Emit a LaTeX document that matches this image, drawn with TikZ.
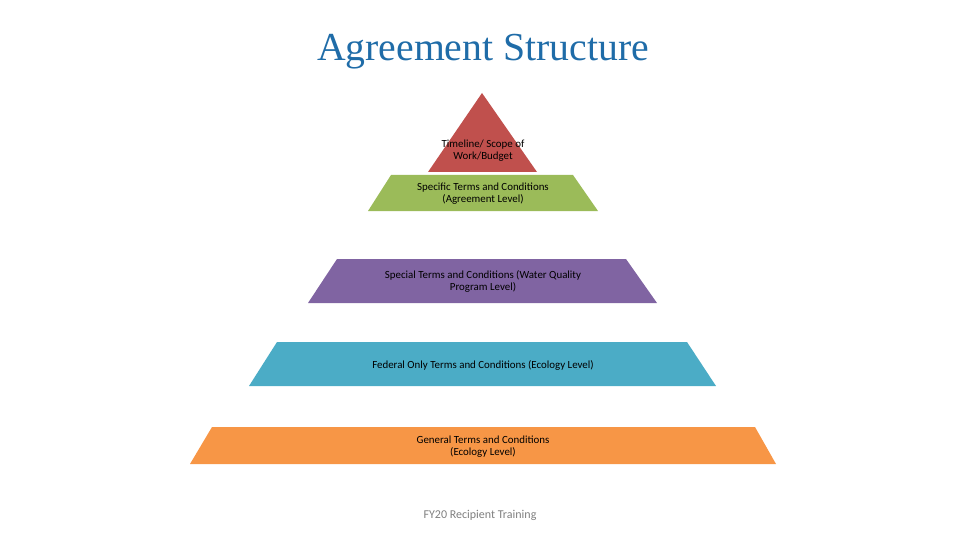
\documentclass[tikz,border=0pt]{standalone}
\usepackage{fontspec}
\setmainfont{Liberation Serif}
\newfontfamily\calib{Carlito}
\definecolor{tred}{HTML}{C0504D}
\definecolor{tgreen}{HTML}{9BBB59}
\definecolor{tpurple}{HTML}{8064A2}
\definecolor{tcyan}{HTML}{4BACC6}
\definecolor{torange}{HTML}{F79646}
\definecolor{ttitle}{HTML}{1F6CA8}
\definecolor{tgray}{HTML}{7F7F7F}
\begin{document}
\begin{tikzpicture}[x=1pt,y=-1pt,
  lvl/.style={font=\calib\fontsize{10.9}{12}\selectfont, align=center, text=black, inner sep=0pt},
]
\useasboundingbox (0,0) rectangle (960,540);
\fill[tred] (482,93) -- (537,172) -- (428,172) -- cycle;
\fill[tgreen] (391,175) -- (573,175) -- (598,211) -- (368,211) -- cycle;
\fill[tpurple] (337,259) -- (626,259) -- (657,303) -- (308,303) -- cycle;
\fill[tcyan] (277,342) -- (687,342) -- (716,386) -- (249,386) -- cycle;
\fill[torange] (212,427) -- (755,427) -- (776,464) -- (190,464) -- cycle;
\node[font=\fontsize{39.7}{44}\selectfont, text=ttitle, anchor=base] (title) at (483,61) {Agreement Structure};
\node[lvl] (t1) at (483,150.5) {Timeline/ Scope of\\Work/Budget};
\node[lvl] (t2) at (483,193.5) {Specific Terms and Conditions\\(Agreement Level)};
\node[lvl] (t3) at (483,281) {Special Terms and Conditions (Water Quality\\Program Level)};
\node[lvl] (t4) at (483,365) {Federal Only Terms and Conditions (Ecology Level)};
\node[lvl] (t5) at (483,446.5) {General Terms and Conditions\\(Ecology Level)};
\node[font=\calib\fontsize{12}{14}\selectfont, text=tgray, inner sep=0pt] (foot) at (480,515.5) {FY20 Recipient Training};
\end{tikzpicture}
\end{document}
